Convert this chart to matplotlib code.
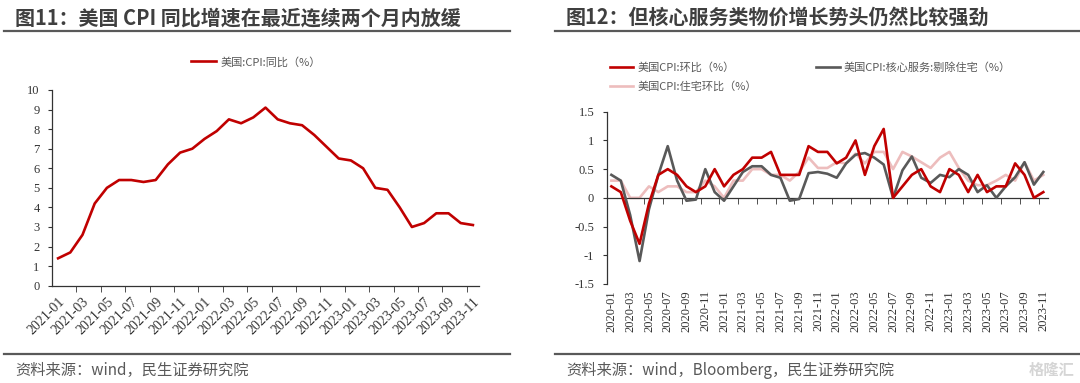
import matplotlib
matplotlib.use("Agg")
import matplotlib.pyplot as plt
from matplotlib.lines import Line2D
import numpy as np

plt.rcParams['font.family'] = ['Noto Sans CJK SC', 'DejaVu Sans']

# ---------------- data ----------------
left_months = ["2021-01", "2021-02", "2021-03", "2021-04", "2021-05", "2021-06", "2021-07",
               "2021-08", "2021-09", "2021-10", "2021-11", "2021-12", "2022-01", "2022-02",
               "2022-03", "2022-04", "2022-05", "2022-06", "2022-07", "2022-08", "2022-09",
               "2022-10", "2022-11", "2022-12", "2023-01", "2023-02", "2023-03", "2023-04",
               "2023-05", "2023-06", "2023-07", "2023-08", "2023-09", "2023-10", "2023-11"]
cpi_yoy = [1.4, 1.7, 2.6, 4.2, 5.0, 5.4, 5.4, 5.3, 5.4, 6.2, 6.8, 7.0, 7.5, 7.9, 8.5, 8.3,
           8.6, 9.1, 8.5, 8.3, 8.2, 7.7, 7.1, 6.5, 6.4, 6.0, 5.0, 4.9, 4.0, 3.0, 3.2, 3.7,
           3.7, 3.2, 3.1]

right_months = [f"{y}-{m:02d}" for y in (2020, 2021, 2022, 2023) for m in range(1, 13)][:47]
cpi_mom = [0.2, 0.1, -0.4, -0.8, -0.1, 0.4, 0.5, 0.4, 0.2, 0.1, 0.2, 0.5,
           0.2, 0.4, 0.5, 0.7, 0.7, 0.8, 0.4, 0.4, 0.4, 0.9, 0.8, 0.8,
           0.6, 0.7, 1.0, 0.4, 0.9, 1.2, 0.0, 0.2, 0.4, 0.5, 0.2, 0.1,
           0.5, 0.4, 0.1, 0.4, 0.1, 0.2, 0.2, 0.6, 0.4, 0.0, 0.1]
core_serv_ex_shelter = [0.4, 0.3, -0.3, -1.1, -0.2, 0.4, 0.9, 0.3, -0.05, -0.03, 0.5, 0.1,
                        -0.05, 0.2, 0.45, 0.55, 0.55, 0.4, 0.35, -0.05, -0.02, 0.43, 0.45, 0.42,
                        0.35, 0.6, 0.75, 0.78, 0.7, 0.58, 0.0, 0.48, 0.72, 0.35, 0.26, 0.4,
                        0.36, 0.5, 0.4, 0.1, 0.22, 0.0, 0.2, 0.36, 0.62, 0.23, 0.45]
shelter_mom = [0.3, 0.3, 0.0, 0.0, 0.2, 0.1, 0.2, 0.2, 0.1, 0.1, 0.3, 0.2,
               0.0, 0.3, 0.3, 0.5, 0.5, 0.4, 0.4, 0.3, 0.45, 0.7, 0.52, 0.52,
               0.62, 0.6, 0.77, 0.6, 0.8, 0.8, 0.5, 0.8, 0.72, 0.62, 0.52, 0.7,
               0.8, 0.52, 0.3, 0.22, 0.22, 0.3, 0.4, 0.3, 0.62, 0.3, 0.4]

left_title = "图11：美国 CPI 同比增速在最近连续两个月内放缓"
right_title = "图12：但核心服务类物价增长势头仍然比较强劲"
left_source = "资料来源：wind，民生证券研究院"
right_source = "资料来源：wind，Bloomberg，民生证券研究院"

RED = "#C00000"
DARK = "#595959"
PINK = "#EDBDBD"
TXT = "#595959"
TITLE_C = "#3F3F3F"

W, H = 1080, 383
fig = plt.figure(figsize=(W / 100, H / 100), dpi=100)

def fx(px):
    return px / W

def fy(py):
    return 1 - py / H

serif = "Liberation Serif"

# ---------------- headers / footers ----------------
fig.text(fx(15), fy(18), left_title, fontsize=14.4, fontweight='bold', color=TITLE_C,
         ha='left', va='center')
fig.text(fx(566), fy(18), right_title, fontsize=14.4, fontweight='bold', color=TITLE_C,
         ha='left', va='center')
for x0, x1 in ((4, 510), (555, 1080)):
    fig.add_artist(Line2D([fx(x0), fx(x1)], [fy(31), fy(31)], color="#595959", lw=1.6))
    fig.add_artist(Line2D([fx(x0), fx(x1)], [fy(354), fy(354)], color="#595959", lw=1.6))
fig.text(fx(15), fy(370), left_source, fontsize=11, color=TXT, ha='left', va='center')
fig.text(fx(566), fy(370), right_source, fontsize=11, color=TXT, ha='left', va='center')
fig.text(fx(1074), fy(370), "格隆汇", fontsize=11, fontweight='bold', color="#D5D5D5",
         ha='right', va='center')

# ---------------- left chart ----------------
axL = fig.add_axes([fx(52), fy(285.7), fx(479 - 52), (285.7 - 90) / H])
xl = np.arange(len(left_months))
lineL, = axL.plot(xl, cpi_yoy, color=RED, lw=1.9, label="美国:CPI:同比（%）")
axL.set_xlim(-0.5, len(left_months) - 0.5)
axL.set_ylim(0, 10)
axL.set_yticks(range(0, 11))
axL.set_yticklabels([str(v) for v in range(0, 11)], fontfamily=serif, fontsize=9, color="#333333")
axL.set_xticks(xl[::2])
axL.set_xticklabels(left_months[::2], rotation=45, ha='right', rotation_mode='anchor',
                    fontfamily=serif, fontsize=10, color="#333333")
axL.set_xticks(np.arange(1.5, len(left_months) - 1, 2), minor=True)
axL.tick_params(axis='x', which='major', length=0, pad=7)
axL.tick_params(axis='x', which='minor', length=4, direction='out', color="#333333")
axL.tick_params(axis='y', length=3, direction='out', color="#333333", pad=6)
for s in ('top', 'right'):
    axL.spines[s].set_visible(False)
for s in ('left', 'bottom'):
    axL.spines[s].set_color("#333333")
    axL.spines[s].set_linewidth(0.9)
fig.legend(handles=[lineL], loc='center', bbox_to_anchor=(fx(256), fy(62)), frameon=False,
           fontsize=8, labelcolor=TXT, handlelength=2.2, handletextpad=0.4)

# ---------------- right chart ----------------
axR = fig.add_axes([fx(606.7), fy(284), fx(1048 - 606.7), (284 - 111.7) / H])
xr = np.arange(len(right_months))
l1, = axR.plot(xr, cpi_mom, color=RED, lw=1.9, label="美国CPI:环比（%）", zorder=4)
l2, = axR.plot(xr, core_serv_ex_shelter, color=DARK, lw=1.9,
               label="美国CPI:核心服务:剔除住宅（%）", zorder=3)
l3, = axR.plot(xr, shelter_mom, color=PINK, lw=1.9, label="美国CPI:住宅环比（%）", zorder=2)
axR.set_xlim(-0.5, len(right_months) - 0.5)
axR.set_ylim(-1.5, 1.5)
yt = [-1.5, -1, -0.5, 0, 0.5, 1, 1.5]
axR.set_yticks(yt)
axR.set_yticklabels([f"{v:g}" for v in yt], fontfamily=serif, fontsize=9, color="#333333")
axR.spines['bottom'].set_position(('data', 0))
axR.set_xticks(xr[::2])
axR.set_xticklabels([])
axR.set_xticks(np.arange(1.5, len(right_months) - 1, 2), minor=True)
axR.tick_params(axis='x', which='major', length=0)
axR.tick_params(axis='x', which='minor', length=4, direction='out', color="#333333")
axR.tick_params(axis='y', length=3, direction='out', color="#333333", pad=6)
for s in ('top', 'right'):
    axR.spines[s].set_visible(False)
for s in ('left', 'bottom'):
    axR.spines[s].set_color("#333333")
    axR.spines[s].set_linewidth(0.9)
for i in xr[::2]:
    axR.text(i, -0.035, right_months[i], transform=axR.get_xaxis_transform(), rotation=90,
             ha='center', va='top', fontfamily=serif, fontsize=9, color="#333333")
fig.legend(handles=[l1, l3, l2], loc='upper left', bbox_to_anchor=(fx(600), fy(52)),
           ncol=2, frameon=False, fontsize=8, labelcolor=TXT, handlelength=2.1,
           handletextpad=0.4, columnspacing=5.3, labelspacing=0.75)

fig.savefig("out.png", dpi=100)
